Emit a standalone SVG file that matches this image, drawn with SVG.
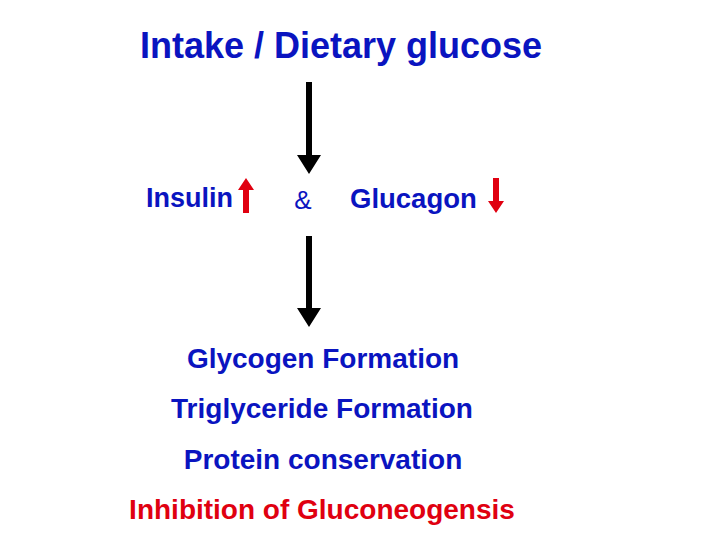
<svg xmlns="http://www.w3.org/2000/svg" width="720" height="540" viewBox="0 0 720 540">
<style>
text{font-family:"Liberation Sans",Arial,sans-serif;font-weight:bold;fill:#0a14c0}
.b{fill:#000}.r{fill:#e00010}
</style>
<rect width="720" height="540" fill="#fff"/>
<g id="title"><text x="341" y="58" font-size="36" text-anchor="middle">Intake / Dietary glucose</text></g>
<g id="insulin"><text x="146" y="207" font-size="27">Insulin</text>
<path class="r" d="M243 213V190h-5l8-12 8 12h-5v23z"/></g>
<g id="amp"><text x="303" y="209" font-size="26" text-anchor="middle" style="font-weight:normal">&amp;</text></g>
<g id="glucagon"><text x="350" y="208" font-size="27.5">Glucagon</text>
<path class="r" d="M493 178V201h-5l8 12 8-12h-5v-23z"/></g>
<g id="connectors">
<path class="b" d="M306 82h6v73h9l-12 19-12-19h9z"/>
<path class="b" d="M306 236h6v72h9l-12 19-12-19h9z"/>
</g>
<g id="results">
<text x="323" y="368" font-size="28" text-anchor="middle">Glycogen Formation</text>
<text x="322" y="418" font-size="28" text-anchor="middle">Triglyceride Formation</text>
<text x="323" y="469" font-size="28" text-anchor="middle">Protein conservation</text>
<text x="322" y="519" font-size="28" text-anchor="middle" class="r">Inhibition of Gluconeogensis</text>
</g>
</svg>
